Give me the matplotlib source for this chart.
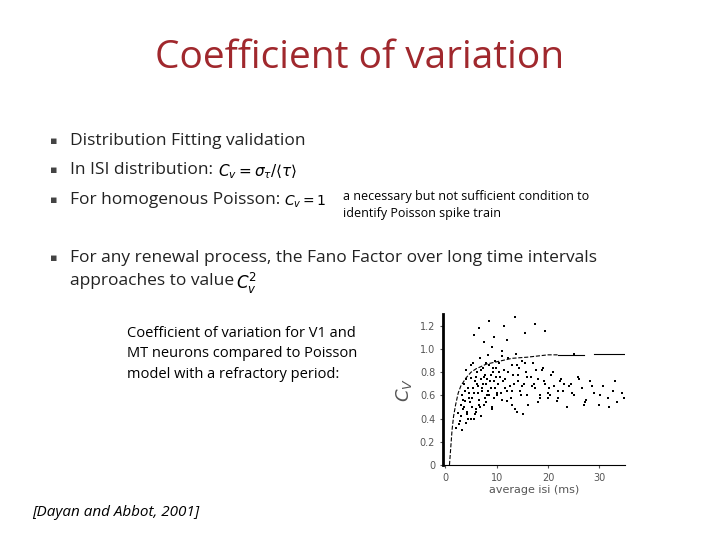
import matplotlib
matplotlib.use("Agg")
import matplotlib.pyplot as plt

isi = [2.1,2.4,2.8,3.0,3.2,3.5,3.7,3.9,4.1,4.3,4.5,4.7,4.9,5.1,5.3,5.5,5.7,5.9,6.1,6.3,6.5,6.7,6.9,7.1,7.3,7.5,7.7,7.9,8.1,8.3,
       8.5,8.7,8.9,9.1,9.3,9.5,9.7,9.9,10.2,10.5,10.8,11.1,11.4,11.7,12.0,12.3,12.6,12.9,13.2,13.5,13.8,14.1,14.4,14.7,15.0,15.4,15.8,16.2,16.6,17.0,
       17.5,18.0,18.5,19.0,19.5,20.0,20.6,21.2,21.8,22.4,23.0,23.7,24.4,25.1,25.8,26.6,27.4,28.2,29.0,29.9,30.8,31.7,32.6,33.5,34.4,
       2.6,3.1,3.4,3.8,4.0,4.4,4.8,5.0,5.4,5.8,6.0,6.4,6.8,7.0,7.4,7.8,8.0,8.4,8.8,9.0,9.4,9.8,10.0,10.6,11.0,11.6,12.2,12.8,13.4,14.0,
       14.6,15.2,16.0,16.8,17.6,18.4,19.2,20.2,21.0,22.0,23.2,24.6,26.0,27.2,28.6,30.2,31.8,33.0,34.8,
       3.3,3.6,4.2,4.6,5.2,5.6,6.2,6.6,7.2,7.6,8.2,8.6,9.2,9.6,10.4,11.2,12.0,13.0,14.2,15.6,17.2,18.8,20.4,22.6,25.0,
       4.0,5.0,6.0,7.0,8.0,9.0,10.0,11.0,12.0,13.0,14.0,15.0,16.0,18.0,20.0,22.0,24.0,27.0,
       5.5,6.5,7.5,8.5,9.5,11.5,13.5,15.5,17.5,19.5]
cv = [0.32,0.45,0.38,0.52,0.60,0.48,0.70,0.55,0.82,0.44,0.66,0.58,0.75,0.50,0.88,0.62,0.72,0.46,0.80,0.68,0.56,0.92,0.74,0.64,0.84,0.52,0.78,0.70,0.60,0.95,
      0.86,0.72,0.66,1.02,0.80,0.58,0.90,0.76,0.70,0.88,0.62,0.98,0.82,0.74,0.55,0.92,0.68,0.86,0.78,0.48,0.96,0.72,0.84,0.60,0.90,0.70,0.80,0.52,0.76,0.88,
      0.66,0.74,0.58,0.84,0.70,0.62,0.78,0.68,0.55,0.72,0.64,0.50,0.70,0.60,0.76,0.66,0.56,0.72,0.62,0.52,0.68,0.58,0.64,0.54,0.62,
      0.35,0.42,0.56,0.64,0.74,0.40,0.54,0.86,0.66,0.44,0.76,0.62,0.50,0.82,0.70,0.58,0.88,0.64,0.78,0.48,0.72,0.84,0.60,0.76,0.94,0.66,0.80,0.58,0.70,0.86,
      0.64,0.44,0.76,0.68,0.82,0.60,0.72,0.66,0.80,0.58,0.70,0.62,0.74,0.54,0.68,0.60,0.50,0.72,0.58,
      0.30,0.50,0.46,0.62,0.58,0.40,0.70,0.52,0.66,0.76,0.74,0.60,0.84,0.66,0.80,0.72,1.08,0.64,0.78,0.88,0.70,0.82,0.60,0.74,0.96,
      0.36,0.40,0.48,0.42,0.54,0.50,0.62,0.56,0.64,0.52,0.46,0.68,0.60,0.54,0.58,0.64,0.68,0.52,
      1.12,1.18,1.06,1.24,1.10,1.20,1.28,1.14,1.22,1.16]
curve_x = [0.8,1.0,1.3,1.6,2.0,2.5,3.0,4.0,5.0,6.0,8.0,10.0,13.0,16.0,20.0,22.0]
curve_y = [0.0,0.12,0.30,0.42,0.52,0.62,0.68,0.75,0.80,0.83,0.87,0.89,0.92,0.93,0.95,0.95]
yticks = [0,0.2,0.4,0.6,0.8,1.0,1.2]
xticks = [0,10,20,30]

fig = plt.figure(figsize=(7.2,5.4), dpi=100)
fig.text(0.5,0.875,"Coefficient of variation",ha="center",fontsize=28,color="#a0282d",family="Open Sans")
bul = [(0.739,"Distribution Fitting validation"),(0.685,"In ISI distribution:"),(0.63,"For homogenous Poisson:"),(0.523,"For any renewal process, the Fano Factor over long time intervals")]
for y,t in bul:
    fig.text(0.075,y,"\u25aa",fontsize=8,color="#444",va="center",ha="center")
    fig.text(0.097,y,t,fontsize=12.5,va="center",family="Open Sans",color="#222")
fig.text(0.097,0.479,"approaches to value",fontsize=12.5,va="center",family="Open Sans",color="#222")
fig.text(0.303,0.682,r"$C_v=\sigma_\tau/\langle\tau\rangle$",fontsize=11,va="center")
fig.text(0.395,0.627,r"$C_v=1$",fontsize=10,va="center")
fig.text(0.328,0.476,r"$C_v^2$",fontsize=12,va="center")
fig.text(0.477,0.62,"a necessary but not sufficient condition to\nidentify Poisson spike train",fontsize=9,va="center",family="Open Sans",linespacing=1.4)
fig.text(0.176,0.345,"Coefficient of variation for V1 and\nMT neurons compared to Poisson\nmodel with a refractory period:",fontsize=10.5,va="center",family="Open Sans",linespacing=1.5)
fig.text(0.045,0.05,"[Dayan and Abbot, 2001]",fontsize=11,style="italic",va="center",family="Open Sans")

ax = fig.add_axes([0.615,0.139,0.253,0.279])
ax.scatter(isi,cv,s=4,marker="s",color="black",linewidths=0)
ax.plot(curve_x,curve_y,color="black",lw=0.8,ls="--")
ax.plot([22,27],[0.95,0.95],color="black",lw=0.8)
ax.plot([29,35],[0.96,0.96],color="black",lw=0.8)
ax.set_xlim(-0.5,35)
ax.set_ylim(0,1.3)
ax.set_xticks(xticks)
ax.set_yticks(yticks)
ax.set_yticklabels(["0","0.2","0.4","0.6","0.8","1.0","1.2"])
ax.tick_params(labelsize=7,colors="#555",length=2)
for s in ["top","right"]:
    ax.spines[s].set_visible(False)
ax.spines["left"].set_linewidth(2)
ax.set_xlabel("average isi (ms)",fontsize=8,color="#555",labelpad=2)
ax.set_ylabel(r"$C_V$",fontsize=13,color="#555")
fig.savefig("out.png",dpi=100)
